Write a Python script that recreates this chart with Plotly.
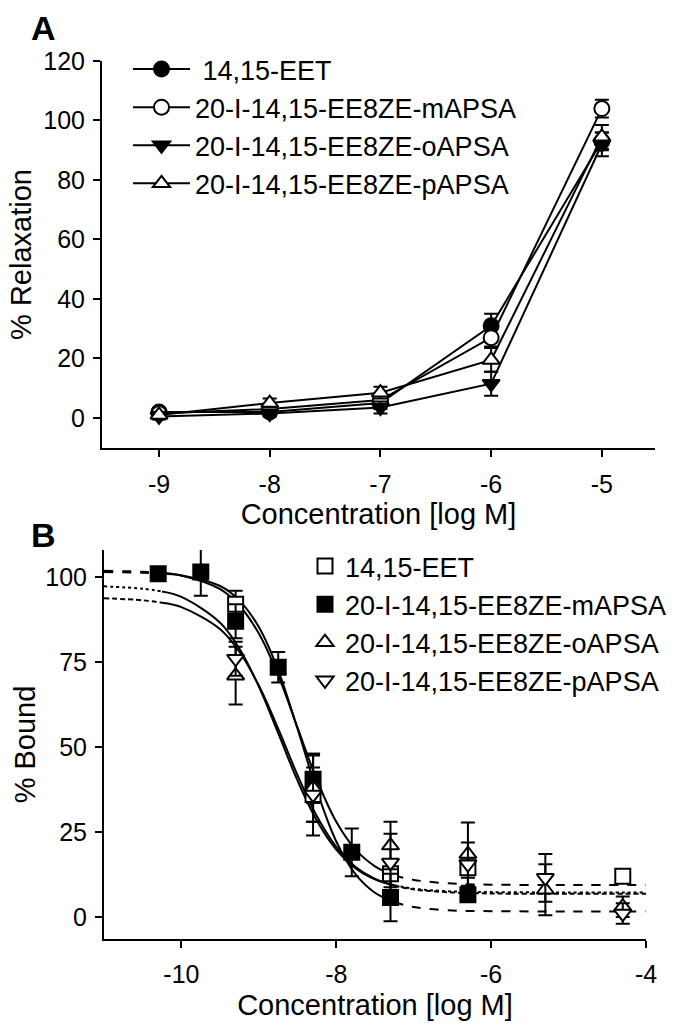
import plotly.graph_objects as go

# ---------------- Panel A data ----------------
conc_a = [-9, -8, -7, -6, -5]
names = ["14,15-EET", "20-I-14,15-EE8ZE-mAPSA", "20-I-14,15-EE8ZE-oAPSA", "20-I-14,15-EE8ZE-pAPSA"]
relax_eet = [2, 2, 5, 31, 93]
relax_eet_err = [1, 1, 2, 4, 3]
relax_m = [1.5, 3, 6, 27, 104]
relax_m_err = [1, 1, 2, 3, 3]
relax_o = [0.5, 1.5, 3.5, 11.5, 92]
relax_o_err = [1, 1, 2, 4, 4]
relax_p = [1, 5, 8.5, 19.5, 94.5]
relax_p_err = [1, 1.5, 2, 4, 4]

# ---------------- Panel B data ----------------
conc_eet = [-9.3, -8.3, -7.3, -6.3, -4.3]
bound_eet = [92, 36, 12.7, 14.5, 12]
bound_eet_err = [4, 8, 4, 3, 1]
conc_m = [-10.3, -9.75, -9.3, -8.75, -8.3, -7.8, -7.3, -6.3]
bound_m = [101, 101.5, 87, 73.5, 40.5, 19, 5.7, 6.5]
bound_m_err = [1, 7, 5, 4.5, 7, 7, 7, 2]
conc_o = [-9.3, -8.3, -7.3, -6.3, -5.3, -4.3]
bound_o = [71, 38, 21, 18.5, 8, 3]
bound_o_err = [8.5, 10, 7, 9.3, 7.5, 3]
conc_p = [-9.3, -8.3, -7.3, -6.3, -5.3, -4.3]
bound_p = [76, 36, 16, 15.5, 11.5, 1]
bound_p_err = [5, 12, 8.5, 6.4, 7, 3]

# fitted curves
curve_x = [-11, -10.5, -10.25, -10, -9.5, -9.25, -9, -8.75, -8.5, -8.25, -8, -7.75, -7.5, -7.25, -7, -6.5, -6, -5, -4]
curve_eet = [101.9, 101.6, 101.3, 100.5, 96.5, 91.6, 83.4, 71.1, 55.7, 40.3, 28.0, 19.8, 14.9, 12.2, 10.9, 9.8, 9.5, 9.4, 9.4]
curve_m = [101.5, 101.3, 101.0, 100.5, 97.4, 93.1, 85.3, 72.6, 55.3, 37.1, 22.2, 12.5, 7.1, 4.3, 2.9, 1.9, 1.7, 1.6, 1.6]
curve_o = [97.3, 96.6, 95.8, 94.2, 86.6, 78.9, 67.8, 54.1, 40.1, 28.3, 19.8, 14.3, 11.1, 9.3, 8.3, 7.5, 7.3, 7.2, 7.2]
curve_p = [93.8, 93.2, 92.5, 91.2, 84.7, 78.0, 68.1, 55.4, 41.7, 29.6, 20.6, 14.7, 11.2, 9.2, 8.1, 7.2, 6.9, 6.8, 6.8]
solid_lo, solid_hi = -10.25, -7.25

ticks_a_x = [-9, -8, -7, -6, -5]
ticks_a_y = [0, 20, 40, 60, 80, 100, 120]
ticks_b_x = [-10, -8, -6, -4]
ticks_b_y = [0, 25, 50, 75, 100]

FONT = "Liberation Sans, Arial, sans-serif"
BLK = "black"

fig = go.Figure()

def err(a):
    return dict(type="data", array=a, thickness=2, width=7, color=BLK)

# Panel A traces
a_series = [
    (relax_eet, relax_eet_err, "circle", BLK, "\u00a0" + names[0]),
    (relax_m, relax_m_err, "circle", "white", names[1]),
    (relax_o, relax_o_err, "triangle-down", BLK, names[2]),
    (relax_p, relax_p_err, "triangle-up", "white", names[3]),
]
for vals, e, sym, fill, nm in a_series:
    fig.add_trace(go.Scatter(
        x=conc_a, y=vals, error_y=err(e), mode="lines+markers", name=nm,
        line=dict(color=BLK, width=2),
        marker=dict(symbol=sym, size=15, color=fill, line=dict(color=BLK, width=2)),
        xaxis="x", yaxis="y", legend="legend"))

# Panel B curves
curve_styles = [(curve_eet, "dash"), (curve_m, "dash"), (curve_o, "dot"), (curve_p, "5px,3px")]
for cy, dsh in curve_styles:
    xs_s = [x for x in curve_x if solid_lo <= x <= solid_hi]
    ys_s = [y for x, y in zip(curve_x, cy) if solid_lo <= x <= solid_hi]
    xs_l = [x for x in curve_x if x <= solid_lo]
    ys_l = [y for x, y in zip(curve_x, cy) if x <= solid_lo]
    xs_r = [x for x in curve_x if x >= solid_hi]
    ys_r = [y for x, y in zip(curve_x, cy) if x >= solid_hi]
    for xs, ys, d in [(xs_s, ys_s, "solid"), (xs_l, ys_l, dsh), (xs_r, ys_r, dsh)]:
        fig.add_trace(go.Scatter(x=xs, y=ys, mode="lines", showlegend=False,
                                 line=dict(color=BLK, width=2, dash=d, shape="spline"),
                                 hoverinfo="skip", xaxis="x2", yaxis="y2"))

b_series = [
    (conc_eet, bound_eet, bound_eet_err, "square", "white", names[0], 15),
    (conc_m, bound_m, bound_m_err, "square", BLK, names[1], 15),
    (conc_o, bound_o, bound_o_err, "triangle-up", "white", names[2], 15),
    (conc_p, bound_p, bound_p_err, "triangle-down", "white", names[3], 15),
]
for xs, ys, e, sym, fill, nm, sz in b_series:
    fig.add_trace(go.Scatter(
        x=xs, y=ys, error_y=err(e), mode="markers", name=nm,
        marker=dict(symbol=sym, size=sz, color=fill, line=dict(color=BLK, width=2)),
        xaxis="x2", yaxis="y2", legend="legend2"))

W, H = 684, 1030
def px(v):
    return v / W
def py(v):
    return 1 - v / H

axis_common = dict(showline=True, linecolor=BLK, linewidth=2, ticks="outside",
                   ticklen=7, tickwidth=2, tickcolor=BLK, showgrid=False, zeroline=False,
                   automargin=False,
                   tickfont=dict(family=FONT, size=25, color=BLK),
                   title_font=dict(family=FONT, size=29, color=BLK))

fig.update_layout(
    template="none",
    width=W, height=H, paper_bgcolor="white", plot_bgcolor="white",
    margin=dict(l=0, r=0, t=0, b=0, autoexpand=False), font=dict(family=FONT, color=BLK),
    xaxis=dict(axis_common, domain=[px(102), px(655)], range=[-9.515, -4.52],
               tickvals=ticks_a_x, ticktext=[str(t) for t in ticks_a_x], ticklabelstandoff=6,
               title=dict(text="Concentration [log M]", standoff=6), anchor="y"),
    yaxis=dict(axis_common, domain=[py(448), py(61)], range=[-10.1, 120], ticklabelstandoff=3,
               tickvals=ticks_a_y, title=dict(text="% Relaxation", standoff=3), anchor="x"),
    xaxis2=dict(axis_common, domain=[px(104), px(646)], range=[-11.0, -4.0], ticklabelstandoff=5,
                tickvals=ticks_b_x, ticktext=[str(t) for t in ticks_b_x],
                title=dict(text="Concentration [log M]", standoff=8), anchor="y2"),
    yaxis2=dict(axis_common, domain=[py(939), py(550)], range=[-6.5, 108], ticklabelstandoff=3,
                tickvals=ticks_b_y, title=dict(text="% Bound", standoff=1), anchor="x2"),
    legend=dict(x=px(128), y=py(45), xanchor="left", yanchor="top",
                font=dict(family=FONT, size=27, color=BLK), bgcolor="rgba(0,0,0,0)",
                itemwidth=57, tracegroupgap=0),
    legend2=dict(x=px(305), y=py(542), xanchor="left", yanchor="top",
                 font=dict(family=FONT, size=27, color=BLK), bgcolor="rgba(0,0,0,0)",
                 itemwidth=30, tracegroupgap=0),
    annotations=[
        dict(text="<b>A</b>", x=px(43), y=py(28), xref="paper", yref="paper",
             xanchor="center", yanchor="middle",
             showarrow=False, font=dict(family=FONT, size=34, color=BLK)),
        dict(text="<b>B</b>", x=px(43), y=py(535), xref="paper", yref="paper",
             xanchor="center", yanchor="middle",
             showarrow=False, font=dict(family=FONT, size=34, color=BLK)),
    ],
)

fig.write_html("out.html", config={"displayModeBar": False},
               post_script="document.body.style.margin='0';document.body.style.padding='0';")
